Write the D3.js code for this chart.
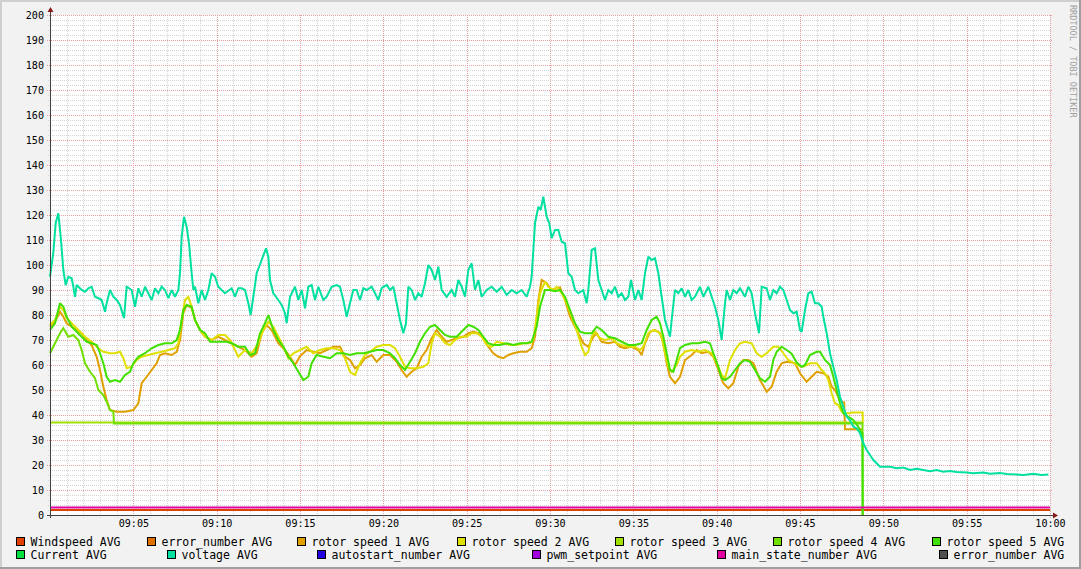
<!DOCTYPE html>
<html><head><meta charset="utf-8">
<script src="https://cdn.jsdelivr.net/npm/d3@7"></script>
<style>
html,body{margin:0;padding:0;background:#f2f2f2;}
svg{display:block;}
text{font-family:"DejaVu Sans Mono",monospace;}
</style></head><body>
<svg id="chart" width="1081" height="569"></svg>
<script>
// ---------------- DATA ----------------
const timeStart = "09:00", timeEnd = "10:00";
const xTickLabels = ["09:05","09:10","09:15","09:20","09:25","09:30","09:35","09:40","09:45","09:50","09:55","10:00"];
const yTickValues = [0,10,20,30,40,50,60,70,80,90,100,110,120,130,140,150,160,170,180,190,200];

const legendNames = ["Windspeed AVG","error_number AVG","rotor speed 1 AVG","rotor speed 2 AVG","rotor speed 3 AVG","rotor speed 4 AVG","rotor speed 5 AVG","Current AVG","voltage AVG","autostart_number AVG","pwm_setpoint AVG","main_state_number AVG","error_number AVG"];

// series: [minutes after 09:00, value]
const windspeed = [[0,2],[60,2]];
const mainState = [[0,3],[60,3]];
const rotor3 = [[0,37],[48.75,37]];
const rotor4 = [[0,64.7],[0.3,68.7],[0.6,72.7],[0.8,74.7],[1.1,71.3],[1.4,72],[1.7,70],[1.9,66],[2.1,60.7],[2.4,57.3],[2.7,54.7],[2.9,50],[3.2,48],[3.4,45.3],[3.6,42],[3.8,41.3],[3.84,36.6],[48.75,36.6],[48.76,0]];
const rotor1 = [[0,75.3],[0.3,77.3],[0.6,81.3],[0.8,79.3],[1.0,76.7],[1.3,75.3],[1.6,74],[1.9,72.7],[2.2,70],[2.5,68],[2.8,63.3],[3.0,58],[3.2,51.3],[3.4,46],[3.6,42],[4.0,41.3],[4.5,41.3],[5.0,42],[5.3,44.7],[5.5,52.7],[5.8,55.3],[6.1,58],[6.4,60.7],[6.6,64],[6.9,64.7],[7.3,64],[7.6,65.3],[7.8,70],[8.0,80.7],[8.2,84],[8.5,82.7],[8.7,78],[9.0,74],[9.3,71.3],[9.7,70],[10.1,71.3],[10.5,70],[10.9,68.7],[11.3,67.3],[11.7,66],[12.1,63.3],[12.4,64.7],[12.7,72.7],[13.0,76],[13.3,74],[13.7,68.7],[14.1,66],[14.4,63.3],[14.7,60],[15.0,63.5],[15.4,66],[15.8,65.3],[16.2,64.7],[16.6,66],[17.0,67.3],[17.4,67.3],[17.7,63.3],[18.0,62],[18.3,58.7],[18.6,60],[18.9,62.7],[19.3,64],[19.6,61.3],[20.0,64],[20.4,64],[20.8,61.3],[21.1,58],[21.4,55.3],[21.7,57.3],[22.0,58.7],[22.3,63.3],[22.6,66],[22.9,70.7],[23.2,74],[23.5,71.3],[23.8,69.3],[24.1,70],[24.4,70.7],[24.8,71.3],[25.1,72.7],[25.4,73.3],[25.7,72.7],[26.0,70.7],[26.3,67.3],[26.6,64.7],[26.9,63.3],[27.2,62.7],[27.5,64],[27.8,64.7],[28.2,65.3],[28.6,65.3],[28.9,66.7],[29.1,71.3],[29.3,86],[29.5,94],[29.8,92.7],[30.1,90],[30.4,90.7],[30.6,91],[30.9,86],[31.2,79.3],[31.5,75.3],[31.8,71.3],[32.0,68.7],[32.3,67.3],[32.6,71.3],[32.8,72.7],[33.1,69.3],[33.5,68.7],[33.9,69.3],[34.2,67.3],[34.5,66.7],[34.9,67.3],[35.3,66],[35.5,64],[35.7,68.7],[36.0,73.3],[36.3,74],[36.6,72.7],[36.8,68.7],[37.0,60.7],[37.2,55.3],[37.5,52.7],[37.8,55.3],[38.1,62],[38.5,64],[38.8,66],[39.1,64.7],[39.5,65.3],[39.8,63.3],[40.1,58],[40.4,52.7],[40.7,50.7],[41.0,52.7],[41.3,59.3],[41.6,62],[41.9,62],[42.2,60.7],[42.6,54],[43.0,49.3],[43.3,51.3],[43.6,57.3],[43.9,60.7],[44.2,61.3],[44.5,61],[44.7,60.7],[45.0,56.7],[45.4,53.3],[45.7,55.3],[46.0,57.3],[46.4,56.7],[46.7,55.3],[46.9,51.3],[47.1,50],[47.3,47.3],[47.5,45.3],[47.65,45],[47.7,34.3],[48.75,34.3]];
const rotor2 = [[0,76],[0.3,78],[0.6,83.3],[0.8,82],[1.0,78.7],[1.3,76.7],[1.7,74],[2.1,71.3],[2.5,69.3],[2.9,66.7],[3.2,65.3],[3.6,64.7],[3.9,64.7],[4.2,65.3],[4.4,62.7],[4.6,58.7],[4.9,59.3],[5.2,62],[5.5,63.3],[5.9,64],[6.3,64.7],[6.7,65.3],[7.1,66],[7.5,66.7],[7.7,68.7],[7.9,78],[8.1,86],[8.3,87.3],[8.5,83.3],[8.7,78],[9.0,74],[9.3,71.3],[9.7,70],[10.1,72],[10.5,72],[10.8,70],[11.1,66],[11.3,63.3],[11.7,66],[12.1,64.7],[12.5,68.7],[12.8,74],[13.1,77.3],[13.4,75.3],[13.7,71.3],[14.0,67.3],[14.3,62.7],[14.6,64.7],[15.0,66],[15.4,67.3],[15.8,64.7],[16.2,66],[16.6,66.7],[17.0,66.7],[17.4,66],[17.7,62.7],[18.0,57.3],[18.3,56],[18.6,60.7],[18.9,64],[19.2,65.3],[19.6,67.3],[20.0,68],[20.4,68],[20.7,66.7],[21.0,63.3],[21.3,59.3],[21.6,58.7],[22.0,58.7],[22.4,59.3],[22.7,60.7],[22.9,68.7],[23.1,72.7],[23.4,71.3],[23.7,68.7],[24.0,68],[24.3,70],[24.6,71.3],[25.0,71.3],[25.3,72.7],[25.6,72.7],[25.9,71.3],[26.2,68],[26.5,67.3],[26.8,69.3],[27.2,68.7],[27.6,68],[28.0,68],[28.4,68.7],[28.8,68.7],[29.0,70],[29.2,79.3],[29.4,88.7],[29.7,93.3],[29.9,91.3],[30.2,90],[30.4,91.3],[30.7,88.7],[31.0,84.7],[31.3,79.3],[31.6,74],[31.9,67.3],[32.1,64],[32.3,65.3],[32.5,71.3],[32.7,73.3],[33.0,70.7],[33.3,70],[33.7,70.7],[34.0,68.7],[34.3,68],[34.7,67.3],[35.1,67.3],[35.4,66],[35.6,67.3],[35.9,72.7],[36.2,74],[36.5,73.3],[36.7,71.3],[36.9,64.7],[37.1,59.3],[37.3,57.3],[37.6,60],[37.8,63.3],[38.1,65.3],[38.5,66],[38.9,65.3],[39.3,66],[39.7,64.7],[40.0,60.7],[40.3,56],[40.5,54.7],[40.8,62],[41.1,66],[41.4,68.7],[41.7,69.3],[42.1,68.7],[42.4,64.7],[42.7,63.3],[43.0,64.7],[43.4,67.3],[43.7,67.3],[44.0,64.7],[44.3,62],[44.5,61.3],[44.8,60],[45.2,59.3],[45.6,60.7],[46.0,60.7],[46.3,58],[46.5,56.7],[46.7,54],[46.9,48.7],[47.1,44.7],[47.3,44],[47.5,41.3],[47.7,40.7],[48.0,40.7],[48.1,41],[48.76,41],[48.77,36.7]];
const rotor5 = [[0,74],[0.3,76.7],[0.6,84.7],[0.8,83.3],[1.0,79.3],[1.3,75.3],[1.6,73.3],[1.9,71.3],[2.2,69.3],[2.5,68.7],[2.8,68],[3.0,64.7],[3.2,60.7],[3.4,55.3],[3.6,53.3],[3.9,54],[4.2,53.3],[4.5,56],[4.8,57.3],[5.0,60.7],[5.3,63.3],[5.7,64.7],[6.1,66.7],[6.5,68],[6.9,68.7],[7.3,68.7],[7.6,70],[7.8,74],[8.0,82],[8.2,84],[8.5,83.3],[8.7,78],[9.0,74],[9.3,72.7],[9.6,69.3],[9.9,69.3],[10.3,69.3],[10.6,69.3],[10.9,68.7],[11.3,67.3],[11.7,67.3],[12.0,64],[12.3,64.7],[12.6,72.7],[12.9,76.7],[13.1,80],[13.4,74],[13.7,70],[14.0,67.3],[14.3,63.3],[14.6,60.7],[14.9,57.3],[15.2,54],[15.5,55.3],[15.7,60.7],[16.0,64],[16.4,63.3],[16.8,62.7],[17.2,64.7],[17.6,64.7],[18.0,64],[18.4,64.7],[18.8,64.7],[19.2,65.3],[19.6,66],[20.0,66],[20.4,64.7],[20.7,62.7],[21.0,60],[21.3,58],[21.6,61.3],[21.9,64.7],[22.2,69.3],[22.5,72.7],[22.8,75.3],[23.1,76],[23.4,74],[23.7,72],[24.0,71.3],[24.4,71.3],[24.8,74],[25.1,76],[25.4,75.3],[25.7,74],[26.0,71.3],[26.3,68.7],[26.6,68],[27.0,68],[27.4,68.7],[27.8,68],[28.2,68.7],[28.6,68.7],[28.9,69.3],[29.2,75.3],[29.4,83.3],[29.7,90],[30.0,90],[30.3,89.5],[30.6,90],[30.9,87.3],[31.2,82],[31.5,76.7],[31.8,73.3],[32.1,72.7],[32.5,72.7],[32.8,75.3],[33.1,74],[33.5,71.3],[33.9,70.7],[34.3,69.3],[34.7,68],[35.1,68],[35.5,68.7],[35.8,74],[36.1,78],[36.4,79.3],[36.6,76.7],[36.8,71.3],[37.0,64.7],[37.2,58],[37.4,57.3],[37.6,62],[37.8,66.7],[38.1,68],[38.5,68.7],[38.9,68.7],[39.3,69.3],[39.6,68.7],[39.8,64.7],[40.1,59.3],[40.3,54.7],[40.5,54],[40.8,55.3],[41.1,58],[41.4,60.7],[41.7,62],[42.0,61.3],[42.3,58],[42.6,54.7],[42.9,53.3],[43.2,55.3],[43.4,62],[43.6,65.3],[43.9,67.3],[44.2,66],[44.5,64.5],[44.8,61],[45.1,59.3],[45.3,60],[45.6,64],[46.0,65.3],[46.2,65.3],[46.5,62],[46.8,60],[47.0,55.3],[47.2,50],[47.4,44.7],[47.6,40.7],[47.9,39.3],[48.2,38],[48.5,35.3],[48.7,32.7],[48.75,32.7],[48.76,0]];
const voltage = [[0,95.3],[0.2,105],[0.34,116.7],[0.5,120.7],[0.66,110],[0.8,98],[0.94,92],[1.1,95.3],[1.3,94.7],[1.4,91.3],[1.5,87.3],[1.6,92],[1.9,90],[2.1,89.3],[2.3,90.7],[2.5,91.3],[2.7,87.3],[2.9,86.7],[3.1,86],[3.3,81.3],[3.4,84.7],[3.6,90],[3.8,87.3],[4.0,86],[4.2,84],[4.44,78.7],[4.6,91.3],[4.9,90],[5.1,83.3],[5.3,90.7],[5.5,87.3],[5.7,91.3],[6.1,86],[6.3,90.7],[6.5,88.7],[6.7,91.3],[6.9,90],[7.1,86.7],[7.3,90],[7.5,87.3],[7.7,90],[7.8,96.7],[7.9,111.3],[8.04,119.3],[8.2,115.3],[8.34,108.7],[8.5,96.7],[8.6,90],[8.7,91.3],[8.9,84.7],[9.1,90],[9.3,86],[9.5,90],[9.7,96.7],[9.9,95.3],[10.1,91.3],[10.3,90],[10.5,88.7],[10.9,90.7],[11.1,87.3],[11.3,90.7],[11.5,90.7],[11.7,90],[11.9,84.7],[12.04,80],[12.2,87.3],[12.4,96.7],[12.7,102],[12.96,106.7],[13.1,103.3],[13.2,94],[13.4,88.7],[13.7,86],[13.9,84],[14.1,80.7],[14.2,76.7],[14.4,87.3],[14.7,91.3],[14.9,86],[15.1,90],[15.3,82.7],[15.5,91.3],[15.7,92],[15.9,86],[16.1,91.3],[16.4,86],[16.6,87.3],[16.9,91.3],[17.2,92],[17.4,91.3],[17.6,86],[17.8,79.3],[18.0,84.7],[18.2,90],[18.4,90],[18.6,86],[18.8,90.7],[19.0,90],[19.3,91.3],[19.5,88.7],[19.7,86],[19.9,90.7],[20.2,92],[20.4,90],[20.6,91.3],[20.8,84.7],[21.0,78],[21.2,72.7],[21.36,76.7],[21.5,91.3],[21.7,90],[21.9,86],[22.1,88.7],[22.3,87.3],[22.5,92.7],[22.7,100],[22.9,98],[23.1,94],[23.3,99.3],[23.5,90],[23.8,87.3],[24.1,90],[24.3,87.3],[24.5,94],[24.7,91.3],[24.9,87.3],[25.1,98],[25.3,100.7],[25.5,90],[25.7,94],[25.9,87.3],[26.2,90],[26.5,91.3],[26.8,89.3],[27.1,91.3],[27.4,88],[27.7,90],[28.0,88.7],[28.3,90],[28.6,87.3],[28.8,91.3],[28.9,95.3],[29.1,116.7],[29.3,123.3],[29.44,122],[29.6,127.3],[29.8,119.3],[29.96,116.7],[30.1,110.7],[30.3,114],[30.5,114],[30.7,109.3],[30.9,108.7],[31.1,96.7],[31.3,95.3],[31.5,90],[31.7,88.7],[32.0,90],[32.2,84.7],[32.3,90],[32.5,106],[32.7,106.7],[32.9,94],[33.1,90],[33.3,86],[33.5,90],[33.7,88.7],[33.9,91.3],[34.1,87.3],[34.3,88.7],[34.5,86],[34.7,87.3],[34.86,94],[35.1,86],[35.3,90],[35.5,86],[35.7,96.7],[35.9,103.3],[36.1,102],[36.3,102.7],[36.5,96.7],[36.7,87.3],[36.9,78],[37.2,71.3],[37.3,78],[37.5,90],[37.7,88.7],[37.9,90.7],[38.1,87.3],[38.3,90],[38.5,86],[38.7,87.3],[39.0,91.3],[39.2,87.3],[39.5,91.3],[39.7,87.3],[39.9,83.3],[40.1,78],[40.3,70],[40.5,84.7],[40.6,90],[40.8,86],[41.0,90],[41.2,88.7],[41.4,90.7],[41.7,87.3],[41.9,91.3],[42.1,88.7],[42.3,80.7],[42.54,72.7],[42.7,91.3],[43.0,90.7],[43.2,86],[43.4,90],[43.6,88.7],[43.8,91.3],[44.0,90],[44.2,86],[44.4,82],[44.6,80.7],[44.8,81.3],[45.0,74],[45.1,73.3],[45.3,82],[45.5,88.7],[45.7,89.3],[45.9,84.7],[46.1,84.7],[46.3,83.3],[46.4,79.3],[46.6,72.7],[46.8,64.7],[47.0,59.3],[47.2,54],[47.4,47.3],[47.6,43.3],[47.8,39.3],[48.0,38],[48.2,35.3],[48.4,34.7],[48.6,32.7],[48.8,28.7],[49.0,26],[49.2,24],[49.4,22],[49.6,20.7],[49.8,19.3],[50.4,19.3],[50.8,18.7],[51.2,19],[51.6,18],[52.0,18.5],[52.4,18],[52.8,17.5],[53.2,18],[53.6,17.3],[54.0,17.6],[54.4,17.2],[55.0,17],[55.4,16.7],[56.0,17],[56.4,16.5],[57.0,16.8],[57.4,16.4],[58.0,16.2],[58.4,16],[59.0,16.5],[59.5,16],[59.9,16.2]];

// ---------------- STYLE / LAYOUT ----------------
const legendColors = ["#e04000","#e07000","#e0a000","#e0e000","#a0e000","#70e000","#40e000","#00e040","#00e0a0","#2000e0","#a000e0","#e000a0","#505050"];
const legendPos = [[16,537],[147,537],[297,537],[457,537],[615,537],[773,537],[932,537],[16,550],[167,550],[317,550],[532,550],[717,550],[939,550]];
const W = 1081, H = 569;
const plot = {left:50, right:1050, top:15, bottom:515};

const svg = d3.select("#chart");
const parseT = d3.timeParse("%H:%M");
const t0 = parseT(timeStart), t1 = parseT(timeEnd);
const toDate = m => new Date(t0.getTime() + m*60000);

const x = d3.scaleTime().domain([t0,t1]).range([plot.left, plot.right]);
const y = d3.scaleLinear().domain([0,200]).range([plot.bottom, plot.top]);

// background & 3D border
svg.append("rect").attr("width",W).attr("height",H).attr("fill","#f2f2f2");
svg.append("rect").attr("x",0).attr("y",0).attr("width",W).attr("height",2).attr("fill","#cfcfcf");
svg.append("rect").attr("x",0).attr("y",0).attr("width",2).attr("height",H).attr("fill","#cfcfcf");
svg.append("rect").attr("x",0).attr("y",H-2).attr("width",W).attr("height",2).attr("fill","#9e9e9e");
svg.append("rect").attr("x",W-2).attr("y",0).attr("width",2).attr("height",H).attr("fill","#9e9e9e");

// canvas
svg.append("rect").attr("x",plot.left).attr("y",plot.top)
  .attr("width",plot.right-plot.left).attr("height",plot.bottom-plot.top).attr("fill","#ffffff");

const crisp = v => Math.round(v)+0.5;
const g = svg.append("g");

// minor grid
const minorY = d3.range(0,201,2).filter(v=>v%10!==0);
const minorX = d3.range(1,61,1).filter(v=>v%5!==0);
g.selectAll(".mgy").data(minorY).join("line")
  .attr("x1",plot.left-2).attr("x2",plot.right+2)
  .attr("y1",d=>crisp(y(d))).attr("y2",d=>crisp(y(d)))
  .attr("stroke","#d4d4d4").attr("stroke-dasharray","1,1");
g.selectAll(".mgx").data(minorX).join("line")
  .attr("y1",plot.top).attr("y2",plot.bottom+3)
  .attr("x1",d=>crisp(x(toDate(d)))).attr("x2",d=>crisp(x(toDate(d))))
  .attr("stroke","#d4d4d4").attr("stroke-dasharray","1,1");
// major grid
const majorY = yTickValues.filter(v=>v>0);
const majorX = xTickLabels.map(s=>parseT(s));
g.selectAll(".MGy").data(majorY).join("line")
  .attr("x1",plot.left-3).attr("x2",plot.right+2)
  .attr("y1",d=>crisp(y(d))).attr("y2",d=>crisp(y(d)))
  .attr("stroke","#eaa0a0").attr("stroke-dasharray","1,1");
g.selectAll(".MGx").data(majorX).join("line")
  .attr("y1",plot.top).attr("y2",plot.bottom+3)
  .attr("x1",d=>crisp(x(d))).attr("x2",d=>crisp(x(d)))
  .attr("stroke","#eaa0a0").attr("stroke-dasharray","1,1");

// series
const line = d3.line().x(d=>x(toDate(d[0]))).y(d=>y(d[1]));
const series = [
  {data:windspeed, c:0},
  {data:rotor1, c:2},
  {data:rotor2, c:3},
  {data:rotor3, c:4},
  {data:rotor4, c:5},
  {data:rotor5, c:6},
  {data:voltage, c:8},
  {data:mainState, c:11}
];
series.forEach(s=>{
  svg.append("path").attr("d",line(s.data)).attr("fill","none")
    .attr("stroke",legendColors[s.c]).attr("stroke-width",2)
    .attr("stroke-linejoin","miter").attr("stroke-miterlimit",2);
});

// axes
const axisColor = "#404040";
const ax = svg.append("g").attr("transform",`translate(0,${plot.bottom})`)
  .call(d3.axisBottom(x).tickValues(majorX).tickFormat(d3.timeFormat("%H:%M")).tickSize(0).tickPadding(5));
ax.select(".domain").remove();
ax.selectAll("text").attr("font-size","10.1px").attr("fill","#000").attr("font-family","DejaVu Sans Mono");
const ay = svg.append("g").attr("transform",`translate(${plot.left},0)`)
  .call(d3.axisLeft(y).tickValues(yTickValues).tickSize(0).tickPadding(6));
ay.select(".domain").remove();
ay.selectAll("text").attr("font-size","10.1px").attr("fill","#000").attr("font-family","DejaVu Sans Mono");

svg.append("line").attr("x1",plot.left+0.5).attr("x2",plot.left+0.5).attr("y1",plot.bottom+3).attr("y2",plot.top-4)
  .attr("stroke",axisColor).attr("stroke-width",1);
svg.append("line").attr("x1",plot.left-3).attr("x2",plot.right+5).attr("y1",plot.bottom+0.5).attr("y2",plot.bottom+0.5)
  .attr("stroke",axisColor).attr("stroke-width",1);
svg.append("path").attr("d",`M${plot.left-2.5},${plot.top-3}L${plot.left+3.5},${plot.top-3}L${plot.left+0.5},${plot.top-8}Z`).attr("fill","#8b1a1a");
svg.append("path").attr("d",`M${plot.right+3},${plot.bottom-2.5}L${plot.right+3},${plot.bottom+3.5}L${plot.right+8},${plot.bottom+0.5}Z`).attr("fill","#8b1a1a");

// legend
const lg = svg.append("g");
legendNames.forEach((n,i)=>{
  const [lx,ly] = legendPos[i];
  lg.append("rect").attr("x",lx+0.5).attr("y",ly+0.5).attr("width",8).attr("height",8)
    .attr("fill",legendColors[i]).attr("stroke","#000").attr("stroke-width",1);
  lg.append("text").attr("x",lx+14.5).attr("y",ly+8.7).attr("font-size","11.5px").attr("fill","#000").text(n);
});

// watermark
svg.append("text").attr("transform","translate(1070,5) rotate(90)")
  .attr("font-size","8.5px").attr("fill","#a0a0a0").text("RRDTOOL / TOBI OETIKER");
</script>
</body></html>
